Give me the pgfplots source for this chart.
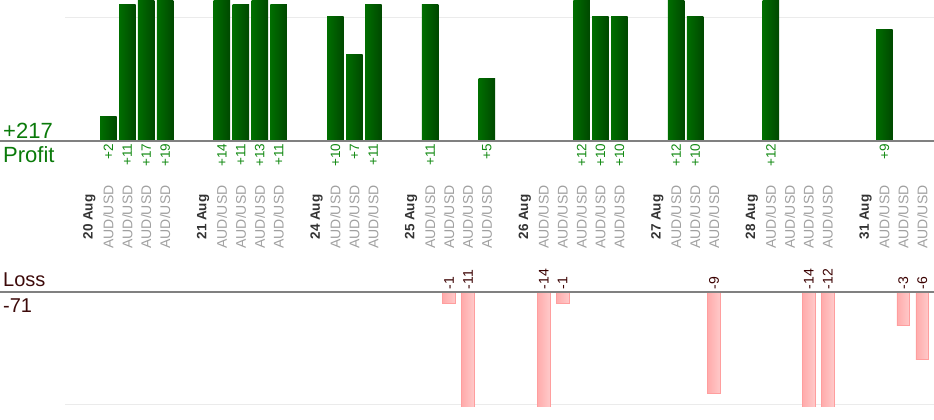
\documentclass[border=0pt]{standalone}
\usepackage{pgfplots}
\pgfplotsset{compat=1.18}
\usepackage{fontspec}
\setmainfont{Liberation Sans}
\definecolor{pA}{HTML}{006E00}
\definecolor{pB}{HTML}{004800}
\definecolor{lossL}{HTML}{FFABAB}
\definecolor{lossR}{HTML}{FFCACA}
\definecolor{lossD}{HTML}{FF9E9E}
\definecolor{gridc}{HTML}{EBEBEB}
\definecolor{baseC}{HTML}{808080}
\definecolor{profT}{HTML}{0A7A0A}
\definecolor{profV}{HTML}{138A13}
\definecolor{lossT}{HTML}{3D0A0A}
\definecolor{lossV}{HTML}{3A0000}
\definecolor{dateC}{HTML}{333333}
\definecolor{pairC}{HTML}{A0A0A0}
\pgfplotsset{
  common/.style={scale only axis, width=869pt, xmin=-1.289, xmax=44.62,
    anchor=south west, major tick length=0pt},
  pbar/.style={ybar, bar width=16.5pt, bar shift=0pt, draw=none, left color=pA, right color=pB},
  lbar/.style={ybar, bar width=12.8pt, bar shift=0pt, draw=lossD, line width=0.6pt, left color=lossL, right color=lossR},
}
\newcommand{\dt}[1]{{\fontsize{13.5pt}{15pt}\selectfont\bfseries\color{dateC}#1}}
\newcommand{\pr}{{\fontsize{14pt}{16pt}\selectfont\color{pairC}AUD/USD}}
\begin{document}
\begin{tikzpicture}
\path[use as bounding box] (0,0) rectangle (934pt,420pt);
% profit bars
\begin{axis}[common, at={(65pt,279pt)}, height=141pt, ymin=0, ymax=11.37,
  axis line style={draw=none}, xtick=\empty, ytick={10}, yticklabels={\empty},
  ymajorgrids, grid style={color=gridc, line width=0.8pt}]
\addplot[pbar] coordinates {(1,2)};
\addplot[pbar] coordinates {(2,11)};
\addplot[pbar] coordinates {(3,17)};
\addplot[pbar] coordinates {(4,19)};
\addplot[pbar] coordinates {(7,14)};
\addplot[pbar] coordinates {(8,11)};
\addplot[pbar] coordinates {(9,13)};
\addplot[pbar] coordinates {(10,11)};
\addplot[pbar] coordinates {(13,10)};
\addplot[pbar] coordinates {(14,7)};
\addplot[pbar] coordinates {(15,11)};
\addplot[pbar] coordinates {(18,11)};
\addplot[pbar] coordinates {(21,5)};
\addplot[pbar] coordinates {(26,12)};
\addplot[pbar] coordinates {(27,10)};
\addplot[pbar] coordinates {(28,10)};
\addplot[pbar] coordinates {(31,12)};
\addplot[pbar] coordinates {(32,10)};
\addplot[pbar] coordinates {(36,12)};
\addplot[pbar] coordinates {(42,9)};
\end{axis}
% loss bars
\begin{axis}[common, at={(65pt,13.3pt)}, height=114.7pt, ymin=-10.24, ymax=0,
  axis line style={draw=none}, xtick=\empty, ytick={-10}, yticklabels={\empty},
  ymajorgrids, grid style={color=gridc, line width=0.8pt}]
\addplot[lbar] coordinates {(19,-1)};
\addplot[lbar] coordinates {(20,-11)};
\addplot[lbar] coordinates {(24,-14)};
\addplot[lbar] coordinates {(25,-1)};
\addplot[lbar] coordinates {(33,-9)};
\addplot[lbar] coordinates {(38,-14)};
\addplot[lbar] coordinates {(39,-12)};
\addplot[lbar] coordinates {(43,-3)};
\addplot[lbar] coordinates {(44,-6)};
\end{axis}
% profit value labels (just under the profit baseline)
\begin{axis}[common, at={(65pt,279pt)}, height=10pt, ymin=0, ymax=1,
  axis line style={draw=none}, ytick=\empty,
  xtick={1,2,3,4,7,8,9,10,13,14,15,18,21,26,27,28,31,32,36,42},
  xticklabels={+2,+11,+17,+19,+14,+11,+13,+11,+10,+7,+11,+11,+5,+12,+10,+10,+12,+10,+12,+9},
  xticklabel style={rotate=90, anchor=east, inner sep=2.5pt, text=profV,
    font=\fontsize{13.5pt}{15pt}\selectfont}]
\end{axis}
% loss value labels (just above the loss baseline)
\begin{axis}[common, at={(65pt,118pt)}, height=10pt, ymin=0, ymax=1,
  axis line style={draw=none}, ytick=\empty, xticklabel pos=upper,
  xtick={19,20,24,25,33,38,39,43,44},
  xticklabels={-1,-11,-14,-1,-9,-14,-12,-3,-6},
  xticklabel style={rotate=90, anchor=west, inner sep=2.5pt, text=lossV,
    font=\fontsize{14pt}{16pt}\selectfont}]
\end{axis}
% category labels
\begin{axis}[common, at={(65pt,203pt)}, height=10pt, ymin=0, ymax=1,
  axis line style={draw=none}, ytick=\empty,
  xtick={0,1,2,3,4,6,7,8,9,10,12,13,14,15,17,18,19,20,21,23,24,25,26,27,28,30,31,32,33,35,36,37,38,39,41,42,43,44},
  xticklabels={\dt{20 Aug},\pr,\pr,\pr,\pr,\dt{21 Aug},\pr,\pr,\pr,\pr,\dt{24 Aug},\pr,\pr,\pr,
    \dt{25 Aug},\pr,\pr,\pr,\pr,\dt{26 Aug},\pr,\pr,\pr,\pr,\pr,\dt{27 Aug},\pr,\pr,\pr,
    \dt{28 Aug},\pr,\pr,\pr,\pr,\dt{31 Aug},\pr,\pr,\pr},
  xticklabel style={rotate=90, anchor=center, inner sep=0pt}]
\end{axis}
\draw[color=baseC, line width=1.3pt] (0,279pt) -- (934pt,279pt);
\draw[color=baseC, line width=1.3pt] (0,128pt) -- (934pt,128pt);
\node[anchor=base west, inner sep=0pt, text=profT, font=\fontsize{22pt}{24pt}\selectfont] at (3pt,281pt) {+217};
\node[anchor=base west, inner sep=0pt, text=profT, font=\fontsize{22pt}{24pt}\selectfont] at (3pt,257pt) {Profit};
\node[anchor=base west, inner sep=0pt, text=lossT, font=\fontsize{20pt}{22pt}\selectfont] at (3pt,133pt) {Loss};
\node[anchor=base west, inner sep=0pt, text=lossT, font=\fontsize{20pt}{22pt}\selectfont] at (3pt,107pt) {-71};
\end{tikzpicture}
\end{document}
